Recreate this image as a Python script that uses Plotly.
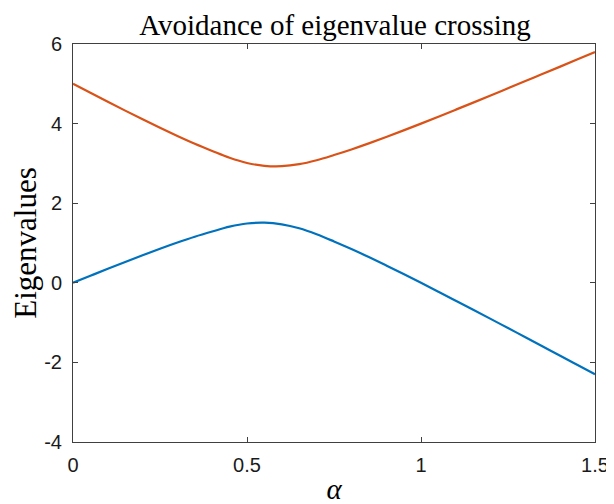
import plotly.graph_objects as go

alpha = [0.0, 0.05, 0.10, 0.15, 0.20, 0.25, 0.30, 0.35, 0.40, 0.45, 0.50, 0.55,
         0.60, 0.65, 0.70, 0.75, 0.80, 0.85, 0.90, 0.95, 1.00, 1.05, 1.10, 1.15,
         1.20, 1.25, 1.30, 1.35, 1.40, 1.45, 1.50]
lower = [0.0, 0.177, 0.352, 0.524, 0.692, 0.856, 1.012, 1.158, 1.288, 1.41, 1.49,
         1.51, 1.47, 1.37, 1.22, 1.04, 0.849, 0.647, 0.437, 0.221, 0.0, -0.224,
         -0.450, -0.677, -0.906, -1.137, -1.368, -1.600, -1.832, -2.066, -2.3]
upper = [5.0, 4.773, 4.548, 4.326, 4.108, 3.894, 3.688, 3.492, 3.312, 3.14, 3.01,
         2.94, 2.93, 2.98, 3.08, 3.21, 3.351, 3.503, 3.663, 3.830, 4.0, 4.174,
         4.350, 4.527, 4.706, 4.887, 5.068, 5.250, 5.432, 5.615, 5.8]
xticks = [0, 0.5, 1, 1.5]
xticklabels = ["0", "0.5", "1", "1.5"]
yticks = [-4, -2, 0, 2, 4, 6]
yticklabels = ["-4", "-2", "0", "2", "4", "6"]

fig = go.Figure()
fig.add_trace(go.Scatter(x=alpha, y=lower, mode="lines", line=dict(color="#0072BD", width=2.2, shape="spline")))
fig.add_trace(go.Scatter(x=alpha, y=upper, mode="lines", line=dict(color="#D95319", width=2.2, shape="spline")))

axis_common = dict(showgrid=False, zeroline=False, showline=True, linecolor="#404040", linewidth=1,
                   mirror="ticks", ticks="inside", ticklen=5, tickcolor="#404040", automargin=False,
                   tickfont=dict(family="Liberation Sans, Arial, sans-serif", size=20, color="#1a1a1a"))

serif = "Liberation Serif, Times New Roman, serif"
fig.update_layout(
    width=614, height=504,
    margin=dict(l=65, r=27, t=36, b=70),
    paper_bgcolor="white", plot_bgcolor="white",
    showlegend=False,
    title=dict(text="Avoidance of eigenvalue crossing", x=(335 - 8) / 614, xanchor="center",
               y=1 - 17 / 504, yanchor="middle", font=dict(family=serif, size=29, color="#000000")),
    xaxis=dict(range=[0, 1.5], tickvals=xticks, ticktext=xticklabels, ticklabelstandoff=5,
               title=dict(text="<i>α</i>", font=dict(family=serif, size=29, color="#000000"), standoff=3),
               **axis_common),
    yaxis=dict(range=[-4, 6], tickvals=yticks, ticktext=yticklabels, ticklabelstandoff=6,
               title=dict(text="Eigenvalues", font=dict(family=serif, size=31, color="#000000"), standoff=4),
               **axis_common),
)
fig.write_html("out.html")
